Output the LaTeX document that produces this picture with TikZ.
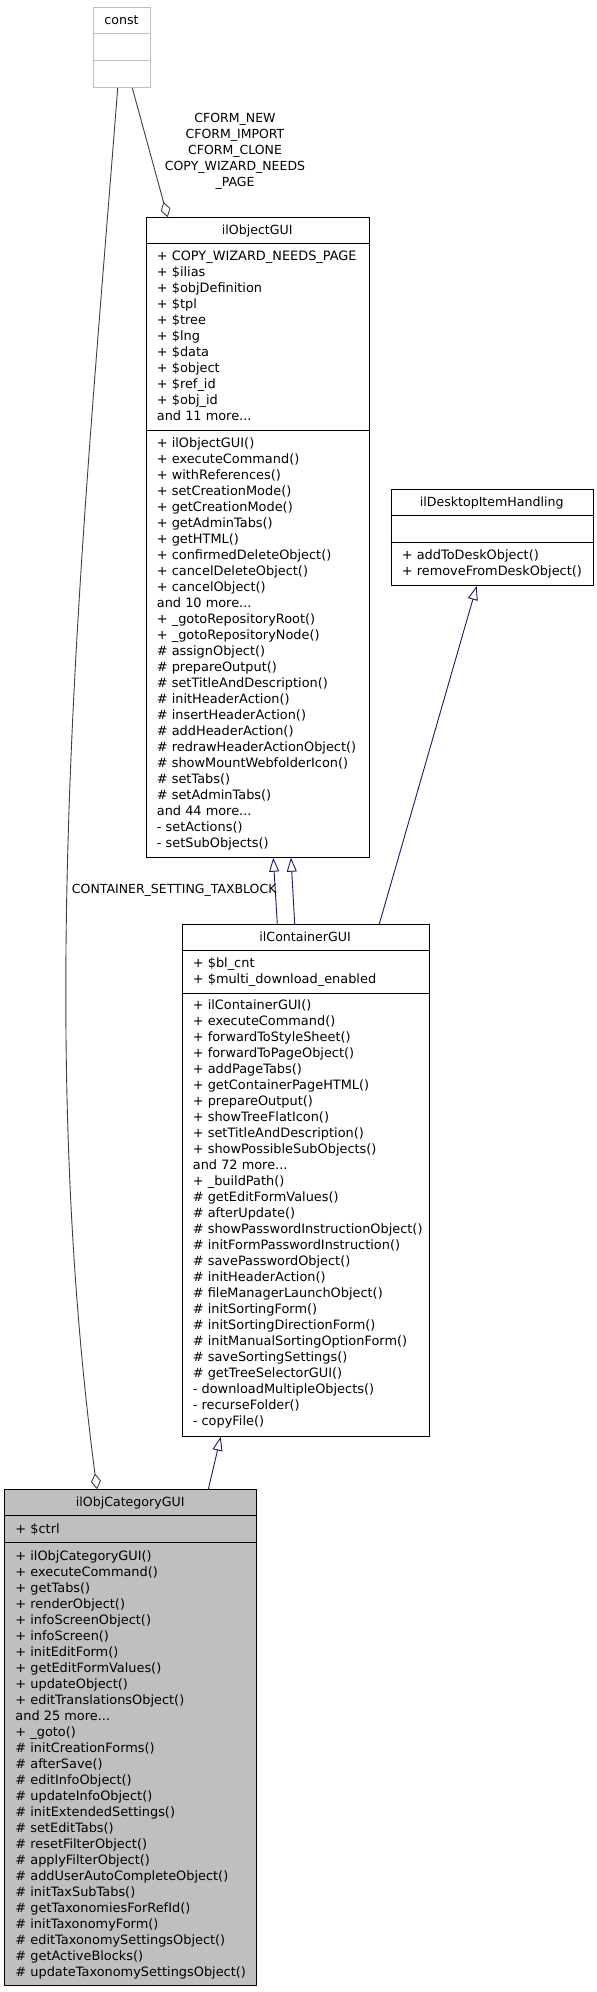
\documentclass[tikz,border=0pt]{standalone}
\usepackage{fontspec}
\setmainfont{DejaVu Sans}
\usetikzlibrary{calc,arrows.meta}
\definecolor{edgegray}{HTML}{404040}
\definecolor{navy}{HTML}{191970}
\definecolor{boxgray}{HTML}{BFBFBF}
\newcommand\mydots{...}
\tikzset{
  cls/.style={draw=black, line width=1pt, inner sep=0pt, anchor=north west},
  extcls/.style={draw=boxgray, line width=1pt, inner sep=0pt, anchor=north west},
  sepline/.style={draw=black, line width=1pt},
  extsep/.style={draw=boxgray, line width=1pt},
  txt/.style={anchor=base west, inner sep=0pt, font=\fontsize{12.9pt}{16pt}\selectfont},
  ttl/.style={anchor=base, inner sep=0pt, font=\fontsize{12.6pt}{16pt}\selectfont},
  inh/.style={draw=navy, line width=0.9pt, -{Triangle[open, length=14pt, width=10pt, fill=white]}},
  use/.style={draw=edgegray, line width=0.9pt, -{Diamond[open, length=16pt, width=10pt, fill=white]}},
  lbl/.style={inner sep=0pt, align=center}
}
\begin{document}
\begin{tikzpicture}[x=1pt, y=-1pt, font=\fontsize{12.5pt}{16pt}\selectfont]
\useasboundingbox (0,0) rectangle (597,1992);
\fill[white] (0,0) rectangle (597,1992);

% const
\node[extcls, minimum width=57pt, minimum height=80pt] (const) at (93,7) {};
\draw[extsep] (93,33.3) -- (150,33.3);
\draw[extsep] (93,60) -- (150,60);
\node[ttl] (constt) at (121.5,24.2) {const};

% ilObjectGUI
\node[cls, minimum width=223pt, minimum height=639.4pt] (obj) at (145.7,217.3) {};
\draw[sepline] (145.7,243.3) -- (368.7,243.3);
\draw[sepline] (145.7,430) -- (368.7,430);
\node[ttl] (objt) at (257.2,234.5) {ilObjectGUI};
\foreach \t [count=\i from 0] in {+ COPY\_WIZARD\_NEEDS\_PAGE,+ \$ilias,+ \$objDefinition,+ \$tpl,+ \$tree,+ \$lng,+ \$data,+ \$object,+ \$ref\_id,+ \$obj\_id,and 11 more\mydots}
  \node[txt] (obja\i) at (156.7,{260.9+16*\i}) {\t};
\foreach \t [count=\i from 0] in {+ ilObjectGUI(),+ executeCommand(),+ withReferences(),+ setCreationMode(),+ getCreationMode(),+ getAdminTabs(),+ getHTML(),+ confirmedDeleteObject(),+ cancelDeleteObject(),+ cancelObject(),and 10 more\mydots,+ \_gotoRepositoryRoot(),+ \_gotoRepositoryNode(),\# assignObject(),\# prepareOutput(),\# setTitleAndDescription(),\# initHeaderAction(),\# insertHeaderAction(),\# addHeaderAction(),\# redrawHeaderActionObject(),\# showMountWebfolderIcon(),\# setTabs(),\# setAdminTabs(),and 44 more\mydots,- setActions(),- setSubObjects()}
  \node[txt] (objm\i) at (156.7,{447.5+16*\i}) {\t};

% ilDesktopItemHandling
\node[cls, minimum width=202pt, minimum height=96pt] (desk) at (390.7,489) {};
\draw[sepline] (390.7,515) -- (592.7,515);
\draw[sepline] (390.7,542.3) -- (592.7,542.3);
\node[ttl] (deskt) at (491.7,506.2) {ilDesktopItemHandling};
\node[txt] (deskm0) at (401.7,559.9) {+ addToDeskObject()};
\node[txt] (deskm1) at (401.7,575.9) {+ removeFromDeskObject()};

% ilContainerGUI
\node[cls, minimum width=246.8pt, minimum height=511.7pt] (cont) at (181.7,924) {};
\draw[sepline] (181.7,950) -- (428.5,950);
\draw[sepline] (181.7,993.3) -- (428.5,993.3);
\node[ttl] (contt) at (305.1,941.2) {ilContainerGUI};
\node[txt] (conta0) at (192.7,967.5) {+ \$bl\_cnt};
\node[txt] (conta1) at (192.7,983.5) {+ \$multi\_download\_enabled};
\foreach \t [count=\i from 0] in {+ ilContainerGUI(),+ executeCommand(),+ forwardToStyleSheet(),+ forwardToPageObject(),+ addPageTabs(),+ getContainerPageHTML(),+ prepareOutput(),+ showTreeFlatIcon(),+ setTitleAndDescription(),+ showPossibleSubObjects(),and 72 more\mydots,+ \_buildPath(),\# getEditFormValues(),\# afterUpdate(),\# showPasswordInstructionObject(),\# initFormPasswordInstruction(),\# savePasswordObject(),\# initHeaderAction(),\# fileManagerLaunchObject(),\# initSortingForm(),\# initSortingDirectionForm(),\# initManualSortingOptionForm(),\# saveSortingSettings(),\# getTreeSelectorGUI(),- downloadMultipleObjects(),- recurseFolder(),- copyFile()}
  \node[txt] (contm\i) at (192.7,{1009.9+16*\i}) {\t};

% ilObjCategoryGUI
\node[cls, fill=boxgray, minimum width=251.7pt, minimum height=495.7pt] (cat) at (4.3,1489.3) {};
\draw[sepline] (4.3,1515.7) -- (256,1515.7);
\draw[sepline] (4.3,1542.3) -- (256,1542.3);
\node[ttl] (catt) at (130.2,1506.7) {ilObjCategoryGUI};
\node[txt] (cata0) at (15.3,1533.2) {+ \$ctrl};
\foreach \t [count=\i from 0] in {+ ilObjCategoryGUI(),+ executeCommand(),+ getTabs(),+ renderObject(),+ infoScreenObject(),+ infoScreen(),+ initEditForm(),+ getEditFormValues(),+ updateObject(),+ editTranslationsObject(),and 25 more\mydots,+ \_goto(),\# initCreationForms(),\# afterSave(),\# editInfoObject(),\# updateInfoObject(),\# initExtendedSettings(),\# setEditTabs(),\# resetFilterObject(),\# applyFilterObject(),\# addUserAutoCompleteObject(),\# initTaxSubTabs(),\# getTaxonomiesForRefId(),\# initTaxonomyForm(),\# editTaxonomySettingsObject(),\# getActiveBlocks(),\# updateTaxonomySettingsObject()}
  \node[txt] (catm\i) at (15.3,{1560.2+16*\i}) {\t};

% edges
\draw[inh] ($(cont.north west)+(95.6,0)$) -- ($(obj.south west)+(127.6,0)$);
\draw[inh] ($(cont.north west)+(113,0)$) -- ($(obj.south west)+(145.3,0)$);
\draw[inh] ($(cont.north west)+(197.6,0)$) -- ($(desk.south west)+(86,0)$);
\draw[inh] ($(cat.north west)+(204,0)$) -- ($(cont.south west)+(39,0)$);
\draw[use] ($(const.south west)+(39.3,0)$) -- ($(obj.north west)+(22,0)$);
\draw[use] ($(const.south west)+(24.7,0)$) .. controls (82,549) and (34,1010) .. ($(cat.north west)+(92.7,0)$);

% labels
\node[lbl] (lblcform) at (235,151.5) {CFORM\_NEW\\CFORM\_IMPORT\\CFORM\_CLONE\\COPY\_WIZARD\_NEEDS\\\_PAGE};
\node[lbl] (lbltax) at (174.2,890.7) {CONTAINER\_SETTING\_TAXBLOCK};
\end{tikzpicture}
\end{document}
